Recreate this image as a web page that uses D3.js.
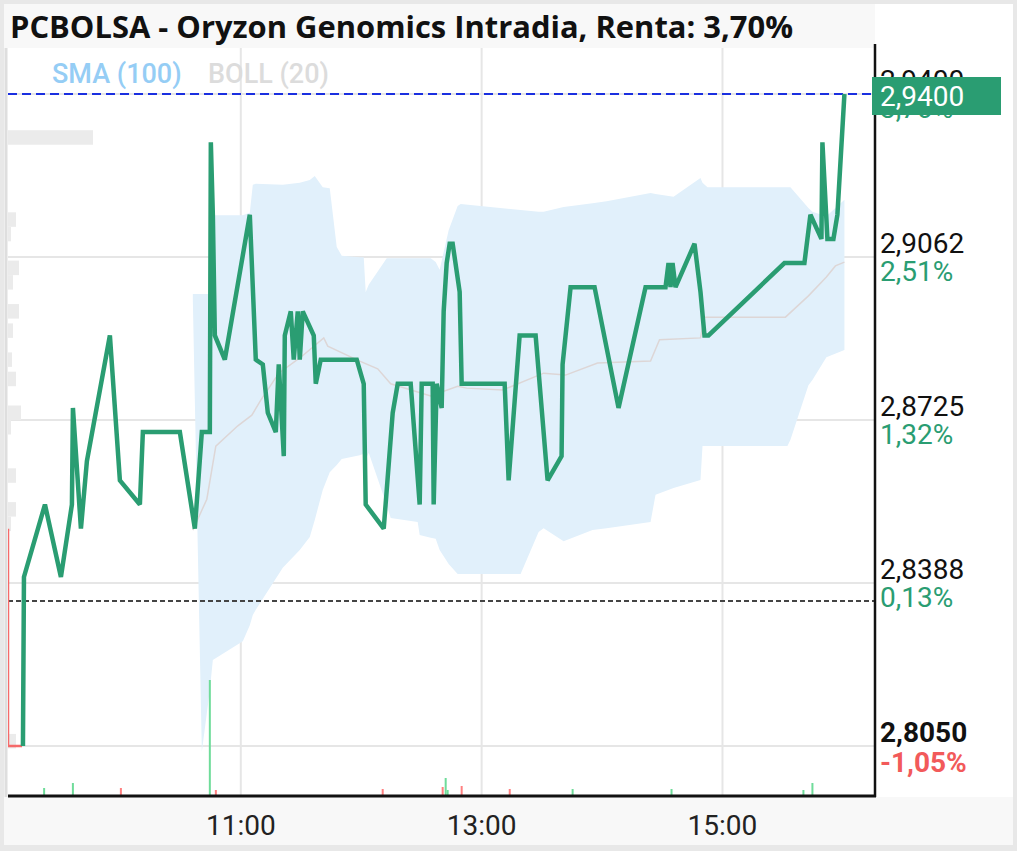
<!DOCTYPE html>
<html>
<head>
<meta charset="utf-8">
<script src="https://cdn.jsdelivr.net/npm/d3@7"></script>
<style>
body { margin: 0; background: #fff; }
svg { display: block; font-family: Roboto, "Open Sans", sans-serif; }
</style>
</head>
<body>
<script>
// intraday prices
var priceTimes = ["09:11:27","09:11:57","09:22:25","09:30:22","09:35:51","09:36:21","09:40:20","09:43:19","09:54:46","09:59:45",
  "10:09:43","10:11:12","10:29:38","10:37:06","10:40:35","10:44:34","10:45:04","10:46:04","10:47:04","10:52:02",
  "11:04:29","11:07:28","11:10:58","11:13:27","11:17:26","11:18:55","11:21:25","11:21:55","11:24:54","11:26:23",
  "11:28:23","11:29:23","11:30:52","11:36:21","11:37:21","11:39:50","11:57:46","12:01:15","12:02:14","12:11:13",
  "12:15:41","12:18:11","12:24:39","12:29:08","12:30:08","12:35:36","12:36:06","12:37:36","12:40:05","12:41:05",
  "12:42:35","12:44:04","12:45:34","12:49:03","12:50:03","13:11:28","13:13:27","13:18:56","13:26:54","13:32:52",
  "13:39:50","13:40:20","13:44:19","13:56:16","14:08:13","14:21:40","14:31:37","14:33:07","14:34:07","14:35:07",
  "14:36:36","14:46:04","14:49:03","14:51:02","14:53:02","15:30:53","15:40:50","15:43:49","15:49:18","15:49:48",
  "15:52:17","15:55:17","15:57:16","16:00:46"];
var prices = [2.805,2.840,2.855,2.840,2.855,2.875,2.850,2.864,2.890,2.860,
  2.855,2.870,2.870,2.850,2.870,2.870,2.930,2.915,2.890,2.885,
  2.915,2.885,2.884,2.874,2.870,2.884,2.865,2.890,2.895,2.885,
  2.895,2.885,2.895,2.890,2.880,2.885,2.885,2.880,2.855,2.850,
  2.874,2.880,2.880,2.855,2.880,2.880,2.855,2.880,2.875,2.895,
  2.905,2.909,2.909,2.899,2.880,2.880,2.860,2.890,2.890,2.860,
  2.865,2.884,2.900,2.900,2.875,2.900,2.900,2.905,2.900,2.905,
  2.900,2.909,2.899,2.890,2.890,2.905,2.905,2.915,2.910,2.930,
  2.910,2.910,2.915,2.940];

// opening auction segment (red)
var openTimes = ["09:04:00","09:04:00","09:11:00"];
var openPrices = [2.850, 2.805, 2.805];

// bollinger band (20)
var bandTimes = ["10:36:06","10:40:35","10:44:34","10:46:04","11:01:00","11:04:29","11:05:59","11:07:28","11:20:55","11:29:23",
  "11:34:22","11:36:51","11:40:50","11:44:19","11:47:48","11:50:17","11:59:15","12:01:15","12:02:14","12:03:44",
  "12:12:42","12:14:41","12:28:08","12:29:08","12:34:37","12:37:06","12:39:05","12:43:34","12:48:03","12:49:33",
  "13:19:25","13:28:23","13:30:53","13:40:50","13:55:16","14:02:15","14:24:10","14:26:39","14:35:37","14:49:03",
  "14:50:03","14:52:32","15:32:22","15:33:52","15:42:50","15:44:49","15:51:47","16:00:46"];
var bandUpper = [2.8986,2.8986,2.8986,2.9149,2.9149,2.9154,2.9212,2.9214,2.9212,2.9216,
  2.9222,2.9230,2.9207,2.9205,2.9083,2.9065,2.9062,2.9062,2.8990,2.9005,
  2.9060,2.9060,2.9060,2.9060,2.9060,2.9052,2.9036,2.9118,2.9168,2.9172,
  2.9160,2.9156,2.9156,2.9166,2.9174,2.9178,2.9195,2.9193,2.9187,2.9226,
  2.9216,2.9207,2.9207,2.9207,2.9164,2.9156,2.9147,2.9181];
var bandLower = [2.8973,2.8038,2.8166,2.8228,2.8267,2.8300,2.8321,2.8332,2.8419,2.8456,
  2.8483,2.8518,2.8580,2.8617,2.8632,2.8644,2.8652,2.8655,2.8642,2.8657,
  2.8549,2.8522,2.8514,2.8487,2.8481,2.8479,2.8456,2.8427,2.8406,2.8406,
  2.8406,2.8493,2.8501,2.8474,2.8497,2.8501,2.8514,2.8570,2.8584,2.8601,
  2.8671,2.8671,2.8671,2.8684,2.8797,2.8808,2.8855,2.8870];

// middle line
var midTimes = ["10:36:06","10:43:04","10:47:33","10:58:31","11:05:29","11:09:58","11:18:55","11:29:53","11:41:20","11:43:19",
  "11:59:15","12:08:13","12:14:41","12:34:37","12:48:03","12:52:32","13:10:28","13:30:53","13:41:50","13:57:46",
  "14:24:10","14:28:38","14:49:03","14:51:02","15:31:23","15:42:50","15:51:47","15:56:16","16:00:46"];
var midValues = [2.8497,2.8561,2.8671,2.8713,2.8735,2.8766,2.8822,2.8855,2.8895,2.8878,
  2.8847,2.8831,2.8800,2.8775,2.8795,2.8791,2.8787,2.8822,2.8818,2.8843,
  2.8847,2.8891,2.8895,2.8938,2.8938,2.8982,2.9021,2.9044,2.9052];

// volume bars
var volTimes = ["09:22:00","09:36:20","10:00:15","10:44:34","10:47:34","12:10:42","12:40:35","12:42:05","12:43:04","12:50:03",
  "13:14:00","13:45:20","14:34:37","15:40:20","15:44:49"];
var volValues = [1400,2400,1400,23000,1000,1200,1600,3400,1000,1800,1200,1200,1200,1000,2400];
var volUp = [true,true,false,true,false,false,false,true,true,false,false,true,true,true,true];

// volume by price
var profilePrices = [2.931,2.914,2.911,2.904,2.901,2.895,2.891,2.885,2.881,2.874,2.871,2.861,2.854,2.851,2.806];
var profileVolumes = [42500,4000,1500,5500,2500,5500,2500,2000,4000,6500,1500,4000,4000,1500,4000];

var tickValues = [2.805, 2.83875, 2.8725, 2.90625, 2.94];
var tickLabels = ["2,8050","2,8388","2,8725","2,9062","2,9400"];
var pctLabels = ["-1,05%","0,13%","1,32%","2,51%","3,70%"];
var refPrice = 2.835;
var lastPrice = 2.94;
var xTicks = ["11:00:00","13:00:00","15:00:00"];

var W = 1017, H = 851;
var pL = 8, pR = 875, pT = 48, pB = 796;
var green = "#2a9d72", red = "#f25a5a";
var parse = d3.timeParse("%H:%M:%S");

var x = d3.scaleTime().domain([parse("09:04:00"), parse("16:16:00")]).range([pL, pR]);
var y = d3.scaleLinear().domain([2.805, 2.94]).range([746, 94]);

var svg = d3.select("body").append("svg").attr("width", W).attr("height", H);

svg.append("rect").attr("x", 0).attr("y", 0).attr("width", W).attr("height", H).attr("fill", "#e8e8e8");
svg.append("rect").attr("x", 4).attr("y", 4).attr("width", W - 8).attr("height", H - 10).attr("fill", "#fff");
svg.append("rect").attr("x", 4).attr("y", 4).attr("width", pR - 4).attr("height", pT - 4).attr("fill", "#f8f8f8");
svg.append("rect").attr("x", 4).attr("y", pB + 1).attr("width", W - 8).attr("height", H - 6 - pB - 1).attr("fill", "#f8f8f8");

svg.append("defs").append("clipPath").attr("id", "plot")
  .append("rect").attr("x", pL).attr("y", pT).attr("width", pR - pL).attr("height", pB - pT);

var g = svg.append("g").attr("clip-path", "url(#plot)");

// grid
g.selectAll(".hg").data(tickValues).enter().append("line")
  .attr("x1", pL).attr("x2", pR).attr("y1", d => y(d)).attr("y2", d => y(d))
  .attr("stroke", "#e6e6e6").attr("stroke-width", 2);
g.selectAll(".vg").data(xTicks).enter().append("line")
  .attr("x1", d => x(parse(d))).attr("x2", d => x(parse(d))).attr("y1", pT).attr("y2", pB)
  .attr("stroke", "#e6e6e6").attr("stroke-width", 2);

// volume by price
var pw = d3.scaleLinear().domain([0, d3.max(profileVolumes)]).range([0, 85]);
var ph = y(2.805) - y(2.808);
g.selectAll(".prof").data(profilePrices).enter().append("rect")
  .attr("x", pL).attr("y", d => y(d) - ph / 2)
  .attr("width", (d, i) => pw(profileVolumes[i])).attr("height", ph)
  .attr("fill", "#ebebeb");

// band
var band = bandTimes.map((t, i) => ({t: parse(t), hi: bandUpper[i], lo: bandLower[i]}));
g.append("path").datum(band)
  .attr("d", d3.area().x(d => x(d.t)).y0(d => y(d.lo)).y1(d => y(d.hi)))
  .attr("fill", "#e1f0fb");

var mid = midTimes.map((t, i) => ({t: parse(t), p: midValues[i]}));
g.append("path").datum(mid)
  .attr("d", d3.line().x(d => x(d.t)).y(d => y(d.p)))
  .attr("fill", "none").attr("stroke", "#ddd6d6").attr("stroke-width", 1.5);

// volume bars
var vh = d3.scaleLinear().domain([0, 23000]).range([0, 115]);
g.selectAll(".vol").data(volTimes).enter().append("rect")
  .attr("x", d => x(parse(d)) - 1).attr("width", 2)
  .attr("y", (d, i) => pB - 1 - vh(volValues[i])).attr("height", (d, i) => vh(volValues[i]))
  .attr("fill", (d, i) => volUp[i] ? "#6fdc9a" : "#ff8080");

// reference and last lines
g.append("line").attr("x1", pL).attr("x2", pR).attr("y1", y(refPrice)).attr("y2", y(refPrice))
  .attr("stroke", "#444").attr("stroke-width", 2).attr("stroke-dasharray", "5,3");
g.append("line").attr("x1", pL).attr("x2", pR).attr("y1", y(lastPrice)).attr("y2", y(lastPrice))
  .attr("stroke", "#1a2fe0").attr("stroke-width", 2).attr("stroke-dasharray", "9,5");

// opening segment
var open = openTimes.map((t, i) => ({t: parse(t), p: openPrices[i]}));
g.append("path").datum(open)
  .attr("d", d3.line().x(d => x(d.t)).y(d => y(d.p)))
  .attr("fill", "none").attr("stroke", "#f56a6a").attr("stroke-width", 2.5);

// price line
var data = priceTimes.map((t, i) => ({t: parse(t), p: prices[i]}));
g.append("path").datum(data)
  .attr("d", d3.line().x(d => x(d.t)).y(d => y(d.p)))
  .attr("fill", "none").attr("stroke", green).attr("stroke-width", 4.5)
  .attr("stroke-linejoin", "miter").attr("stroke-miterlimit", 2);

// axes lines
svg.append("line").attr("x1", 6).attr("x2", 6).attr("y1", pT).attr("y2", pB + 1)
  .attr("stroke", "#dedede").attr("stroke-width", 3);
svg.append("line").attr("x1", pR).attr("x2", pR).attr("y1", pT - 4).attr("y2", pB + 1)
  .attr("stroke", "#111").attr("stroke-width", 2.5);
svg.append("line").attr("x1", pL).attr("x2", pR + 1).attr("y1", pB).attr("y2", pB)
  .attr("stroke", "#111").attr("stroke-width", 3);

// y labels
var lab = svg.append("g").attr("font-size", 28);
lab.selectAll(".pl").data(tickValues).enter().append("text")
  .attr("x", 880).attr("y", d => y(d) - 4)
  .attr("fill", "#111").attr("font-weight", (d, i) => i === 0 ? "bold" : "normal")
  .text((d, i) => tickLabels[i]);
lab.selectAll(".pc").data(tickValues).enter().append("text")
  .attr("x", 880).attr("y", (d, i) => y(d) + (i === 0 ? 26 : 24))
  .attr("fill", (d, i) => i === 0 ? red : green).attr("font-weight", (d, i) => i === 0 ? "bold" : "normal")
  .text((d, i) => pctLabels[i]);

// last price box
svg.append("rect").attr("x", 872).attr("y", y(lastPrice) - 17).attr("width", 129).attr("height", 38).attr("fill", green);
svg.append("text").attr("x", 880).attr("y", y(lastPrice) + 12).attr("font-size", 28).attr("fill", "#fff")
  .text(tickLabels[4]);

// x labels
svg.selectAll(".xl").data(xTicks).enter().append("text")
  .attr("x", d => x(parse(d))).attr("y", 835).attr("text-anchor", "middle")
  .attr("font-size", 28).attr("fill", "#222")
  .text(d => d.slice(0, 5));

// legend
svg.append("text").attr("x", 52).attr("y", 83).attr("font-size", 27).attr("font-weight", 500).attr("fill", "#95cdf5").text("SMA (100)");
svg.append("text").attr("x", 208).attr("y", 83).attr("font-size", 27).attr("font-weight", 500).attr("fill", "#dcdcdc").text("BOLL (20)");

// title
svg.append("text").attr("x", 10).attr("y", 38)
  .attr("font-family", "'Open Sans', sans-serif").attr("font-weight", "bold").attr("font-size", 30)
  .attr("fill", "#111").attr("textLength", 783).attr("lengthAdjust", "spacingAndGlyphs")
  .text("PCBOLSA - Oryzon Genomics Intradia, Renta: 3,70%");
</script>
</body>
</html>
